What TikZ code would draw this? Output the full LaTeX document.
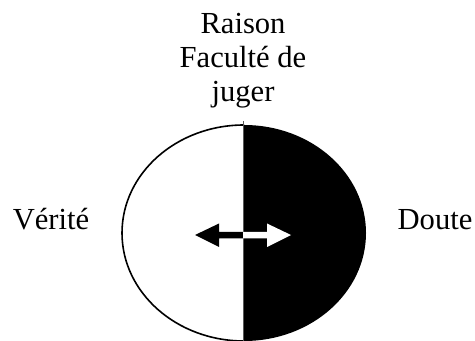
\documentclass[tikz,border=0pt]{standalone}
\usepackage{fontspec}
\setmainfont{Liberation Serif}
\begin{document}
\begin{tikzpicture}[x=0.5pt,y=-0.5pt,
  lbl/.style={font=\fontsize{15.3pt}{17pt}\selectfont, inner sep=0pt, anchor=base}]
\useasboundingbox[fill=white] (0,0) rectangle (475,341);
% right black half
\begin{scope}
  \clip (244,0) rectangle (475,341);
  \fill[black] (244,233) ellipse [x radius=61pt, y radius=54pt];
\end{scope}
% left outline
\begin{scope}
  \clip (0,0) rectangle (244,341);
  \draw[black, line width=0.8pt] (244,233) ellipse [x radius=61pt, y radius=54pt];
\end{scope}
% divider
\draw[gray!70!black, line width=0.5pt] (243.5,121) -- (243.5,341);
% arrows
\fill[black] (195,235) -- (219,223.5) -- (219,232) -- (243,232) -- (243,238.5) -- (219,238.5) -- (219,247) -- cycle;
\fill[white] (291,235) -- (267,223.5) -- (267,232) -- (243,232) -- (243,238.5) -- (267,238.5) -- (267,247) -- cycle;
% labels
\node[lbl] (raison) at (243,34) {Raison};
\node[lbl] (faculte) at (243,68) {Faculté de};
\node[lbl] (juger) at (243,102) {juger};
\node[lbl] (verite) at (51,229) {Vérité};
\node[lbl] (doute) at (435,229) {Doute};
\end{tikzpicture}
\end{document}
